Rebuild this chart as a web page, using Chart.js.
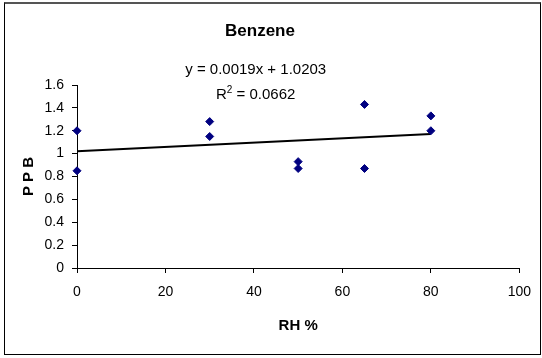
<!DOCTYPE html>
<html>
<head>
<meta charset="utf-8">
<script src="https://cdn.jsdelivr.net/npm/chart.js@4.4.1/dist/chart.umd.min.js"></script>
<style>
  body { margin: 0; background: #fff; }
  #frame {
    position: absolute; left: 4px; top: 2px; width: 537px; height: 353px;
    border: 1px solid #000; border-top: 2px solid #555; box-sizing: border-box;
  }
  #benzeneChart { position: absolute; left: 0; top: 0; }
</style>
</head>
<body>
<div id="frame"></div>
<canvas id="benzeneChart" width="542" height="358"></canvas>
<script>
// Measured benzene concentration (PPB) at each relative humidity level
const rhValues = [0, 0, 30, 30, 50, 50, 65, 65, 80, 80];
const ppbValues = [1.20, 0.85, 1.28, 1.15, 0.93, 0.87, 1.43, 0.87, 1.33, 1.20];

// Linear trendline as reported on the chart
const trendSlope = 0.0019;
const trendIntercept = 1.0203;
const trendR2 = 0.0662;

const xTicks = [0, 20, 40, 60, 80, 100];
const yTicks = [0, 0.2, 0.4, 0.6, 0.8, 1, 1.2, 1.4, 1.6];

const FONT = "'Liberation Sans', Arial, sans-serif";

const points = rhValues.map((x, i) => ({ x: x, y: ppbValues[i] }));
const xMin = Math.min(...rhValues);
const xMax = Math.max(...rhValues);
const trendPoints = [xMin, xMax].map(x => ({ x: x, y: trendSlope * x + trendIntercept }));

// Draws the regression equation and R² above the data
const equationLabel = {
    id: 'equationLabel',
    afterDraw(chart) {
        const { ctx, scales } = chart;
        const cx = scales.x.getPixelForValue(40.4);
        ctx.save();
        ctx.fillStyle = '#000';
        ctx.textBaseline = 'middle';
        ctx.textAlign = 'center';
        ctx.font = '15px ' + FONT;
        ctx.fillText('y = ' + trendSlope.toFixed(4) + 'x + ' + trendIntercept.toFixed(4), cx, scales.y.getPixelForValue(1.73));

        // R² with a raised superscript
        const yR = scales.y.getPixelForValue(1.51);
        const rest = ' = ' + trendR2.toFixed(4);
        const wR = ctx.measureText('R').width;
        const wRest = ctx.measureText(rest).width;
        ctx.font = '10px ' + FONT;
        const wSup = ctx.measureText('2').width;
        const left = cx - (wR + wSup + wRest) / 2;
        ctx.textAlign = 'left';
        ctx.font = '15px ' + FONT;
        ctx.fillText('R', left, yR);
        ctx.font = '10px ' + FONT;
        ctx.fillText('2', left + wR, yR - 5);
        ctx.font = '15px ' + FONT;
        ctx.fillText(rest, left + wR + wSup, yR);
        ctx.restore();
    }
};

const ctx = document.getElementById('benzeneChart').getContext('2d');
new Chart(ctx, {
    type: 'scatter',
    data: {
        datasets: [
            {
                label: 'Benzene',
                data: points,
                pointStyle: 'rectRot',
                pointRadius: 4,
                pointHoverRadius: 4,
                backgroundColor: '#000080',
                borderColor: '#000080',
                borderWidth: 1,
                clip: false
            },
            {
                label: 'Linear trend',
                type: 'line',
                data: trendPoints,
                borderColor: '#000',
                borderWidth: 2,
                pointRadius: 0,
                fill: false,
                clip: false
            }
        ]
    },
    options: {
        responsive: false,
        animation: false,
        layout: { padding: { left: 0, top: 0, right: 22, bottom: 0 } },
        plugins: {
            legend: { display: false },
            tooltip: { enabled: false },
            title: {
                display: true,
                text: 'Benzene',
                color: '#000',
                font: { family: FONT, size: 17, weight: 'bold', lineHeight: 1.2 },
                padding: { top: 21, bottom: 43.6 }
            }
        },
        scales: {
            x: {
                type: 'linear',
                min: 0,
                max: 100,
                afterBuildTicks: scale => { scale.ticks = xTicks.map(v => ({ value: v })); },
                afterFit: scale => { scale.height = 90; },
                grid: { drawOnChartArea: false, color: '#000', tickLength: 5 },
                border: { color: '#000', width: 1 },
                ticks: {
                    color: '#000',
                    padding: 11,
                    maxRotation: 0,
                    font: { family: FONT, size: 14 }
                },
                title: {
                    display: true,
                    text: 'RH %',
                    color: '#000',
                    font: { family: FONT, size: 15, weight: 'bold' },
                    padding: { top: 0, bottom: 23 }
                }
            },
            y: {
                min: 0,
                max: 1.6,
                afterBuildTicks: scale => { scale.ticks = yTicks.map(v => ({ value: v })); },
                afterFit: scale => { scale.width = 77; },
                grid: { drawOnChartArea: false, color: '#000', tickLength: 5 },
                border: { color: '#000', width: 1 },
                ticks: {
                    color: '#000',
                    padding: 8,
                    font: { family: FONT, size: 14 },
                    callback: v => String(+v.toFixed(1))
                },
                title: {
                    display: true,
                    text: 'P P B',
                    color: '#000',
                    font: { family: FONT, size: 15, weight: 'bold' },
                    padding: { top: 20, bottom: 0 }
                }
            }
        }
    },
    plugins: [equationLabel]
});
</script>
</body>
</html>
